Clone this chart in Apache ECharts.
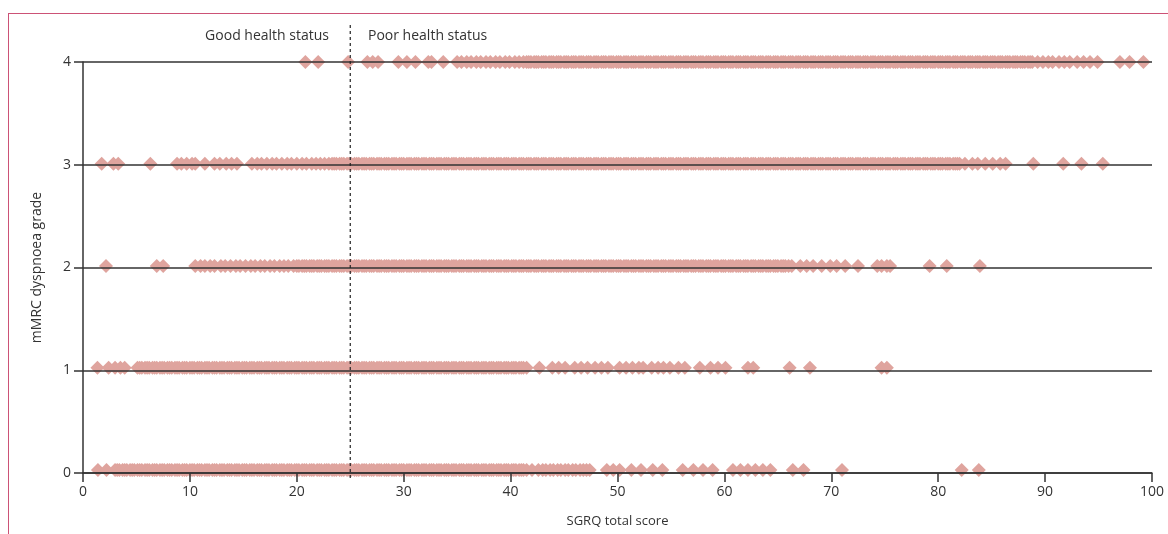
<!DOCTYPE html>
<html>
<head>
<meta charset="utf-8">
<title>mMRC vs SGRQ</title>
<script src="https://cdn.jsdelivr.net/npm/echarts@6/dist/echarts.min.js"></script>
<style>
  html, body { margin: 0; padding: 0; background: #fff; }
  #wrap { position: relative; width: 1168px; height: 534px; }
  #frame { position: absolute; left: 8px; top: 13px; right: 0; bottom: 0;
           border-top: 1.5px solid #cc5276; border-left: 1.5px solid #cc5276; }
  #main { position: absolute; left: 0; top: 0; width: 1168px; height: 534px; }
</style>
</head>
<body>
<div id="wrap">
  <div id="frame"></div>
  <div id="main"></div>
</div>
<script>
// SGRQ total scores, one list per mMRC grade
// (the solid bands in the picture are many overlapping patients)
var grade0 = [1.4, 2.2,
  3.0, 3.2, 3.4, 3.7, 3.9, 4.1, 4.4, 4.6, 4.8, 5.1, 5.3, 5.5, 5.8, 6.0, 6.2, 6.5, 6.7, 6.9, 7.2, 7.4,
  7.6, 7.9, 8.1, 8.3, 8.6, 8.8, 9.0, 9.3, 9.5, 9.7, 10.0, 10.2, 10.4, 10.7, 10.9, 11.1, 11.4, 11.6, 11.8,
  12.1, 12.3, 12.5, 12.8, 13.0, 13.2, 13.5, 13.7, 13.9, 14.2, 14.4, 14.6, 14.9, 15.1, 15.3, 15.6, 15.8,
  16.0, 16.3, 16.5, 16.7, 17.0, 17.2, 17.4, 17.7, 17.9, 18.1, 18.4, 18.6, 18.8, 19.1, 19.3, 19.5, 19.8,
  20.0, 20.2, 20.5, 20.7, 20.9, 21.2, 21.4, 21.6, 21.9, 22.1, 22.3, 22.6, 22.8, 23.0, 23.3, 23.5, 23.7,
  24.0, 24.2, 24.4, 24.7, 24.9, 25.1, 25.4, 25.6, 25.8, 26.1, 26.3, 26.5, 26.8, 27.0, 27.2, 27.5, 27.7,
  27.9, 28.2, 28.4, 28.6, 28.9, 29.1, 29.3, 29.6, 29.8, 30.0, 30.3, 30.5, 30.7, 31.0, 31.2, 31.4, 31.7,
  31.9, 32.1, 32.4, 32.6, 32.8, 33.1, 33.3, 33.5, 33.8, 34.0, 34.2, 34.5, 34.7, 34.9, 35.2, 35.4, 35.6,
  35.9, 36.1, 36.3, 36.6, 36.8, 37.0, 37.3, 37.5, 37.7, 38.0, 38.2, 38.4, 38.7, 38.9, 39.1, 39.4, 39.6,
  39.8, 40.1, 40.3, 40.5, 40.8, 41.0, 41.2, 41.5,
  42.0, 42.6, 43.0, 43.3, 43.7, 44.0, 44.4, 44.7, 45.1, 45.4, 45.8, 46.1, 46.5, 46.8, 47.1, 47.4,
  49.0, 49.6, 50.2, 51.3, 52.2, 53.3, 54.2, 56.1, 57.1, 58.0, 58.9, 60.8, 61.5, 62.2, 62.9, 63.6, 64.3,
  66.4, 67.4, 71.0, 82.2, 83.8];

var grade1 = [1.35, 2.4, 3.0, 3.5, 3.9,
  5.1, 5.3, 5.5, 5.8, 6.0, 6.2, 6.5, 6.7, 6.9, 7.2, 7.4, 7.6, 7.9, 8.1, 8.3, 8.6, 8.8, 9.0, 9.3, 9.5,
  9.7, 10.0, 10.2, 10.4, 10.7, 10.9, 11.1, 11.4, 11.6, 11.8, 12.1, 12.3, 12.5, 12.8, 13.0, 13.2, 13.5,
  13.7, 13.9, 14.2, 14.4, 14.6, 14.9, 15.1, 15.3, 15.6, 15.8, 16.0, 16.3, 16.5, 16.7, 17.0, 17.2, 17.4,
  17.7, 17.9, 18.1, 18.4, 18.6, 18.8, 19.1, 19.3, 19.5, 19.8, 20.0, 20.2, 20.5, 20.7, 20.9, 21.2, 21.4,
  21.6, 21.9, 22.1, 22.3, 22.6, 22.8, 23.0, 23.3, 23.5, 23.7, 24.0, 24.2, 24.4, 24.7, 24.9, 25.1, 25.4,
  25.6, 25.8, 26.1, 26.3, 26.5, 26.8, 27.0, 27.2, 27.5, 27.7, 27.9, 28.2, 28.4, 28.6, 28.9, 29.1, 29.3,
  29.6, 29.8, 30.0, 30.3, 30.5, 30.7, 31.0, 31.2, 31.4, 31.7, 31.9, 32.1, 32.4, 32.6, 32.8, 33.1, 33.3,
  33.5, 33.8, 34.0, 34.2, 34.5, 34.7, 34.9, 35.2, 35.4, 35.6, 35.9, 36.1, 36.3, 36.6, 36.8, 37.0, 37.3,
  37.5, 37.7, 38.0, 38.2, 38.4, 38.7, 38.9, 39.1, 39.4, 39.6, 39.8, 40.1, 40.3, 40.5, 40.8, 41.0, 41.2,
  41.5,
  42.7, 43.9, 44.5, 45.1, 46.0, 46.6, 47.2, 47.9, 48.5, 49.1, 50.2, 50.8, 51.4, 52.0, 52.4, 53.2,
  53.8, 54.3, 54.9, 55.7, 56.3, 57.7, 58.7, 59.4, 60.1, 62.2, 62.7, 66.1, 68.0, 74.7, 75.2];

var grade2 = [2.15, 6.9, 7.5,
  10.5, 11.0, 11.4, 11.9, 12.3, 12.9, 13.3, 13.8, 14.3, 14.7, 15.2, 15.7, 16.1, 16.6, 17.0, 17.5, 17.9,
  18.4, 18.8, 19.2, 19.7, 20.0, 20.2, 20.5, 20.7, 20.9, 21.2, 21.4, 21.6, 21.9, 22.1, 22.3, 22.6, 22.8,
  23.0, 23.3, 23.5, 23.7, 24.0, 24.2, 24.4, 24.7, 24.9, 25.1, 25.4, 25.6, 25.8, 26.1, 26.3, 26.5, 26.8,
  27.0, 27.2, 27.5, 27.7, 27.9, 28.2, 28.4, 28.6, 28.9, 29.1, 29.3, 29.6, 29.8, 30.0, 30.3, 30.5, 30.7,
  31.0, 31.2, 31.4, 31.7, 31.9, 32.1, 32.4, 32.6, 32.8, 33.1, 33.3, 33.5, 33.8, 34.0, 34.2, 34.5, 34.7,
  34.9, 35.2, 35.4, 35.6, 35.9, 36.1, 36.3, 36.6, 36.8, 37.0, 37.3, 37.5, 37.7, 38.0, 38.2, 38.4, 38.7,
  38.9, 39.1, 39.4, 39.6, 39.8, 40.1, 40.3, 40.5, 40.8, 41.0, 41.2, 41.5, 41.7, 41.9, 42.2, 42.4, 42.6,
  42.9, 43.1, 43.3, 43.6, 43.8, 44.0, 44.3, 44.5, 44.7, 45.0, 45.2, 45.4, 45.7, 45.9, 46.1, 46.4, 46.6,
  46.8, 47.1, 47.3, 47.5, 47.8, 48.0, 48.2, 48.5, 48.7, 48.9, 49.2, 49.4, 49.6, 49.9, 50.1, 50.3, 50.6,
  50.8, 51.0, 51.3, 51.5, 51.7, 52.0, 52.2, 52.4, 52.7, 52.9, 53.1, 53.4, 53.6, 53.8, 54.1, 54.3, 54.5,
  54.8, 55.0, 55.2, 55.5, 55.7, 55.9, 56.2, 56.4, 56.6, 56.9, 57.1, 57.3, 57.6, 57.8, 58.0, 58.3, 58.5,
  58.7, 59.0, 59.2, 59.4, 59.7, 59.9, 60.1, 60.4, 60.6, 60.8, 61.1, 61.3, 61.5, 61.8, 62.0, 62.2, 62.5,
  62.7, 62.9, 63.2, 63.4, 63.6, 63.9, 64.1, 64.3, 64.6, 64.8, 65.0, 65.3, 65.5, 65.7, 66.0, 66.3,
  67.1, 67.7, 68.3, 69.1, 69.9, 70.5, 71.3, 72.5, 74.3, 74.7, 75.2, 75.5, 79.2, 80.8, 83.9];

var grade3 = [1.75, 2.85, 3.3, 6.3, 8.8, 9.2, 9.7, 10.2, 10.5, 11.4, 12.3, 12.8, 13.4, 13.9, 14.4,
  15.8, 16.3, 16.7, 17.2, 17.7, 18.1, 18.6, 19.1, 19.5, 20.0, 20.5, 20.9, 21.4, 21.8, 22.2, 22.6,
  23.0, 23.3, 23.5, 23.7, 24.0, 24.2, 24.4, 24.7, 24.9, 25.1, 25.4, 25.6, 25.8, 26.1, 26.3, 26.5, 26.8,
  27.0, 27.2, 27.5, 27.7, 27.9, 28.2, 28.4, 28.6, 28.9, 29.1, 29.3, 29.6, 29.8, 30.0, 30.3, 30.5, 30.7,
  31.0, 31.2, 31.4, 31.7, 31.9, 32.1, 32.4, 32.6, 32.8, 33.1, 33.3, 33.5, 33.8, 34.0, 34.2, 34.5, 34.7,
  34.9, 35.2, 35.4, 35.6, 35.9, 36.1, 36.3, 36.6, 36.8, 37.0, 37.3, 37.5, 37.7, 38.0, 38.2, 38.4, 38.7,
  38.9, 39.1, 39.4, 39.6, 39.8, 40.1, 40.3, 40.5, 40.8, 41.0, 41.2, 41.5, 41.7, 41.9, 42.2, 42.4, 42.6,
  42.9, 43.1, 43.3, 43.6, 43.8, 44.0, 44.3, 44.5, 44.7, 45.0, 45.2, 45.4, 45.7, 45.9, 46.1, 46.4, 46.6,
  46.8, 47.1, 47.3, 47.5, 47.8, 48.0, 48.2, 48.5, 48.7, 48.9, 49.2, 49.4, 49.6, 49.9, 50.1, 50.3, 50.6,
  50.8, 51.0, 51.3, 51.5, 51.7, 52.0, 52.2, 52.4, 52.7, 52.9, 53.1, 53.4, 53.6, 53.8, 54.1, 54.3, 54.5,
  54.8, 55.0, 55.2, 55.5, 55.7, 55.9, 56.2, 56.4, 56.6, 56.9, 57.1, 57.3, 57.6, 57.8, 58.0, 58.3, 58.5,
  58.7, 59.0, 59.2, 59.4, 59.7, 59.9, 60.1, 60.4, 60.6, 60.8, 61.1, 61.3, 61.5, 61.8, 62.0, 62.2, 62.5,
  62.7, 62.9, 63.2, 63.4, 63.6, 63.9, 64.1, 64.3, 64.6, 64.8, 65.0, 65.3, 65.5, 65.7, 66.0, 66.2, 66.4,
  66.7, 66.9, 67.1, 67.4, 67.6, 67.8, 68.1, 68.3, 68.5, 68.8, 69.0, 69.2, 69.5, 69.7, 69.9, 70.2, 70.4,
  70.6, 70.9, 71.1, 71.3, 71.6, 71.8, 72.0, 72.3, 72.5, 72.7, 73.0, 73.2, 73.4, 73.7, 73.9, 74.1, 74.4,
  74.6, 74.8, 75.1, 75.3, 75.5, 75.8, 76.0, 76.2, 76.5, 76.7, 76.9, 77.2, 77.4, 77.6, 77.9, 78.1, 78.3,
  78.6, 78.8, 79.0, 79.3, 79.5, 79.7, 80.0, 80.2, 80.4, 80.7, 80.9, 81.1, 81.4, 81.6, 81.8, 82.0,
  82.5, 83.2, 83.7, 84.4, 85.1, 85.8, 86.3, 88.9, 91.7, 93.4, 95.4];

var grade4 = [20.8, 22.0, 24.8, 26.6, 27.1, 27.6, 29.5, 30.3, 31.1, 32.3, 32.6, 33.7,
  35.0, 35.4, 35.9, 36.3, 36.8, 37.2, 37.7, 38.1, 38.6, 39.0, 39.5, 39.9, 40.4, 40.8, 41.2,
  41.5, 41.7, 41.9, 42.2, 42.4, 42.6, 42.9, 43.1, 43.3, 43.6, 43.8, 44.0, 44.3, 44.5, 44.7, 45.0, 45.2,
  45.4, 45.7, 45.9, 46.1, 46.4, 46.6, 46.8, 47.1, 47.3, 47.5, 47.8, 48.0, 48.2, 48.5, 48.7, 48.9, 49.2,
  49.4, 49.6, 49.9, 50.1, 50.3, 50.6, 50.8, 51.0, 51.3, 51.5, 51.7, 52.0, 52.2, 52.4, 52.7, 52.9, 53.1,
  53.4, 53.6, 53.8, 54.1, 54.3, 54.5, 54.8, 55.0, 55.2, 55.5, 55.7, 55.9, 56.2, 56.4, 56.6, 56.9, 57.1,
  57.3, 57.6, 57.8, 58.0, 58.3, 58.5, 58.7, 59.0, 59.2, 59.4, 59.7, 59.9, 60.1, 60.4, 60.6, 60.8, 61.1,
  61.3, 61.5, 61.8, 62.0, 62.2, 62.5, 62.7, 62.9, 63.2, 63.4, 63.6, 63.9, 64.1, 64.3, 64.6, 64.8, 65.0,
  65.3, 65.5, 65.7, 66.0, 66.2, 66.4, 66.7, 66.9, 67.1, 67.4, 67.6, 67.8, 68.1, 68.3, 68.5, 68.8, 69.0,
  69.2, 69.5, 69.7, 69.9, 70.2, 70.4, 70.6, 70.9, 71.1, 71.3, 71.6, 71.8, 72.0, 72.3, 72.5, 72.7, 73.0,
  73.2, 73.4, 73.7, 73.9, 74.1, 74.4, 74.6, 74.8, 75.1, 75.3, 75.5, 75.8, 76.0, 76.2, 76.5, 76.7, 76.9,
  77.2, 77.4, 77.6, 77.9, 78.1, 78.3, 78.6, 78.8, 79.0, 79.3, 79.5, 79.7, 80.0, 80.2, 80.4, 80.7, 80.9,
  81.1, 81.4, 81.6, 81.8, 82.1, 82.3, 82.5, 82.8, 83.0, 83.2, 83.5, 83.7, 83.9, 84.2, 84.4, 84.6, 84.9,
  85.1, 85.3, 85.6, 85.8, 86.0, 86.3, 86.5, 86.7, 87.0, 87.2, 87.4, 87.7, 87.9, 88.1, 88.4, 88.6, 88.8,
  89.3, 89.8, 90.3, 90.7, 91.3, 91.8, 92.3,
  93.0, 93.6, 94.2, 94.9, 97.0, 97.9, 99.2];

var grades = [grade0, grade1, grade2, grade3, grade4];
var xTicks = [0, 10, 20, 30, 40, 50, 60, 70, 80, 90, 100];
var yTicks = [0, 1, 2, 3, 4];
var cutoff = 25;   // SGRQ score separating good and poor health status

var pink = '#dfa49e';
var ink = '#333';
var font = '"Open Sans", "Noto Sans", sans-serif';
var lift = [-3, -2.5, -1.5, -1, 0];

var chart = echarts.init(document.getElementById('main'));

var series = grades.map(function (xs, g) {
  return {
    type: 'scatter',
    xAxisIndex: 0, yAxisIndex: 0,
    symbol: 'diamond',
    symbolSize: [14, 14],
    symbolOffset: [0, lift[g]],
    itemStyle: { color: pink, opacity: 1 },
    silent: true,
    large: false,
    data: xs.map(function (x) { return [x, g]; })
  };
});

// dashed cut-off line drawn on its own taller grid
series.push({
  type: 'line',
  xAxisIndex: 1, yAxisIndex: 1,
  z: 20,
  symbol: 'none',
  silent: true,
  lineStyle: { color: '#222', width: 1.2, type: [3, 3] },
  data: [[cutoff, 0], [cutoff, 1]]
});

chart.setOption({
  animation: false,
  textStyle: { fontFamily: font },
  grid: [
    { left: 83, right: 16, top: 62, bottom: 61 },
    { left: 83, right: 16, top: 22, bottom: 56 }
  ],
  xAxis: [{
    type: 'value', gridIndex: 0, min: 0, max: 100, interval: 10, z: 10,
    name: 'SGRQ total score', nameLocation: 'middle', nameGap: 42,
    nameTextStyle: { color: ink, fontSize: 13, fontFamily: font },
    axisLine: { lineStyle: { color: ink, width: 1.5 } },
    axisTick: { length: 9, lineStyle: { color: ink, width: 1.5 } },
    axisLabel: { color: ink, fontSize: 14, margin: 12, fontFamily: font,
      formatter: function (v) { return xTicks.indexOf(v) >= 0 ? String(v) : ''; } },
    splitLine: { show: false }
  }, {
    type: 'value', gridIndex: 1, min: 0, max: 100, show: false
  }],
  yAxis: [{
    type: 'value', gridIndex: 0, min: 0, max: 4, interval: 1, z: 10,
    name: 'mMRC dyspnoea grade', nameLocation: 'middle', nameGap: 39,
    nameTextStyle: { color: ink, fontSize: 14, fontFamily: font },
    axisLine: { show: true, lineStyle: { color: ink, width: 1.5 } },
    axisTick: { show: true, length: 9, lineStyle: { color: ink, width: 1.5 } },
    axisLabel: { color: ink, fontSize: 14, margin: 12, fontFamily: font,
      formatter: function (v) { return yTicks.indexOf(v) >= 0 ? String(v) : ''; } },
    splitLine: { show: true, lineStyle: { color: ink, width: 1.5 } }
  }, {
    type: 'value', gridIndex: 1, min: 0, max: 1, show: false
  }],
  graphic: [
    { type: 'text', right: 1168 - 329, top: 29,
      style: { text: 'Good health status', fill: ink, font: '14px ' + font } },
    { type: 'text', left: 368, top: 29,
      style: { text: 'Poor health status', fill: ink, font: '14px ' + font } }
  ],
  series: series
});
</script>
</body>
</html>
